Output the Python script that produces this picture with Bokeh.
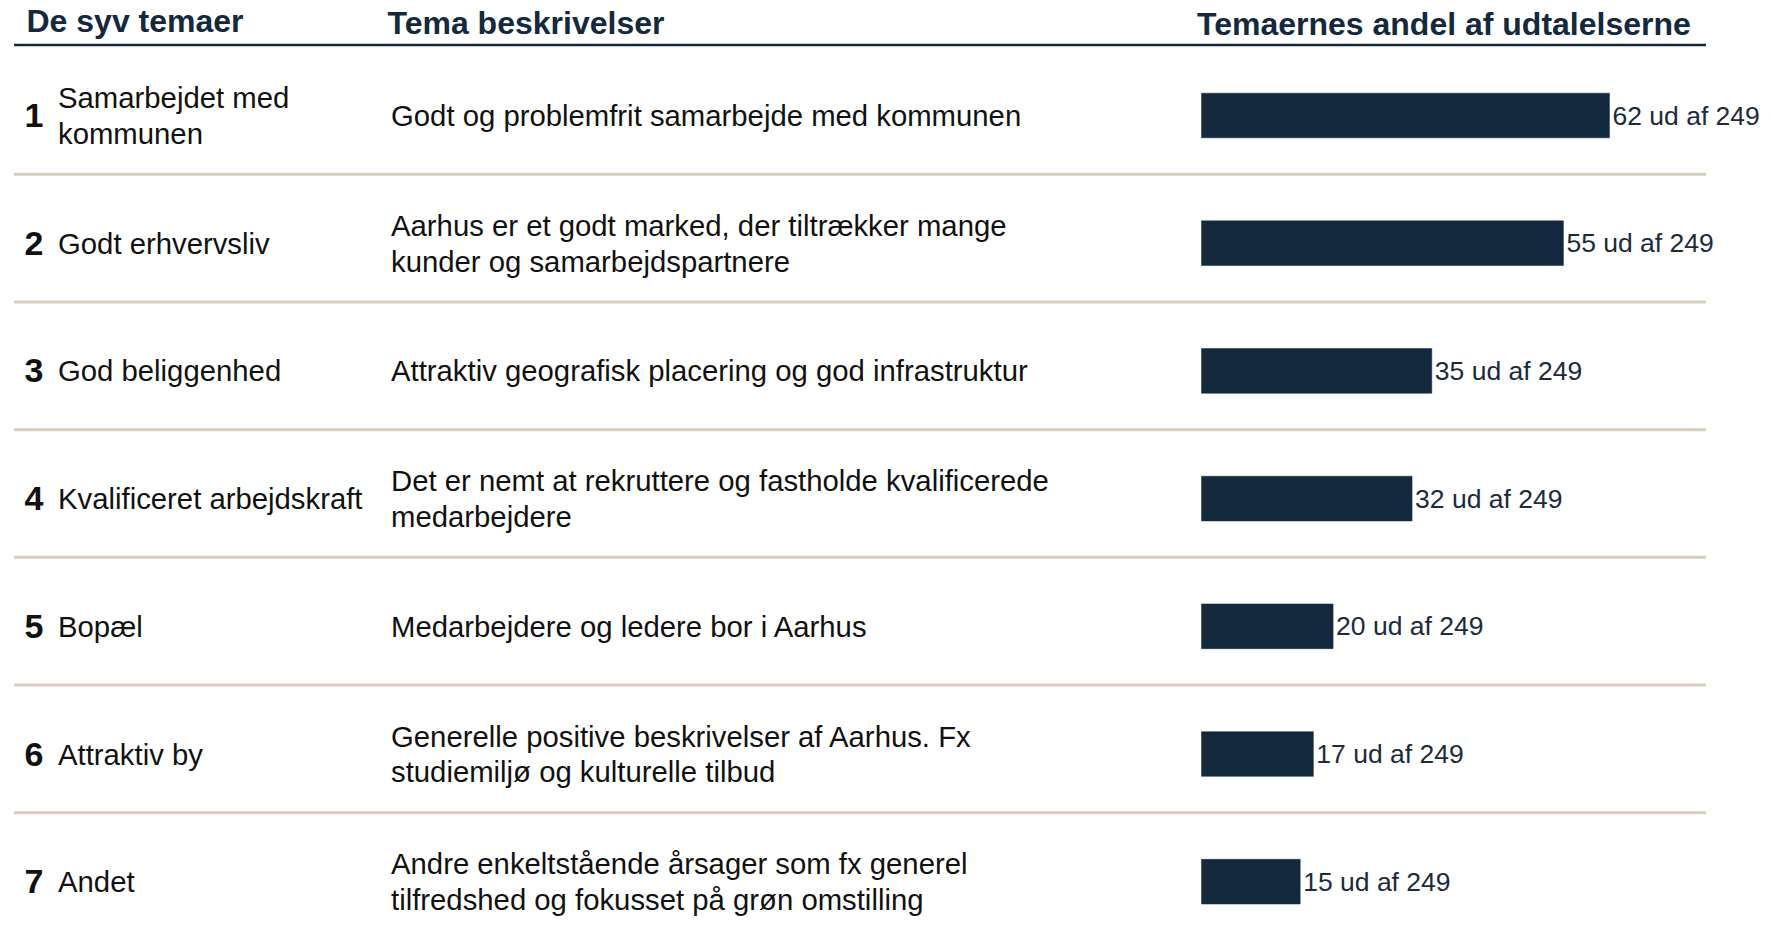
from bokeh.plotting import figure
from bokeh.models import Range1d, ColumnDataSource
from bokeh.core.properties import value
from bokeh.embed import file_html
from bokeh.resources import INLINE

# ---- data ----
theme_numbers = ["1", "2", "3", "4", "5", "6", "7"]
theme_names = [
    "Samarbejdet med\nkommunen",
    "Godt erhvervsliv",
    "God beliggenhed",
    "Kvalificeret arbejdskraft",
    "Bopæl",
    "Attraktiv by",
    "Andet",
]
theme_descriptions = [
    "Godt og problemfrit samarbejde med kommunen",
    "Aarhus er et godt marked, der tiltrækker mange\nkunder og samarbejdspartnere",
    "Attraktiv geografisk placering og god infrastruktur",
    "Det er nemt at rekruttere og fastholde kvalificerede\nmedarbejdere",
    "Medarbejdere og ledere bor i Aarhus",
    "Generelle positive beskrivelser af Aarhus. Fx\nstudiemiljø og kulturelle tilbud",
    "Andre enkeltstående årsager som fx generel\ntilfredshed og fokusset på grøn omstilling",
]
counts = [62, 55, 35, 32, 20, 17, 15]
total = 249
header_titles = ["De syv temaer", "Tema beskrivelser", "Temaernes andel af udtalelserne"]

# ---- layout ----
W, H = 1768, 936
PX_PER_UNIT = 6.58
ZERO_PX = 1201.0
ROW_PITCH = 127.7
ROW1_PX = 115.0

x_start = -ZERO_PX / PX_PER_UNIT
x_end = (W - ZERO_PX) / PX_PER_UNIT
y_top = 1 - ROW1_PX / ROW_PITCH
y_bottom = 1 + (H - ROW1_PX) / ROW_PITCH


def px_x(px):
    return x_start + px / PX_PER_UNIT


def px_y(px):
    return 1 + (px - ROW1_PX) / ROW_PITCH


NAVY = "#14293d"
SEP = "#d9cfbf"
FONT = value("Liberation Sans")

p = figure(width=W, height=H, x_range=Range1d(x_start, x_end),
           y_range=Range1d(y_bottom, y_top), output_backend="svg",
           toolbar_location=None, min_border=0)
p.axis.visible = False
p.grid.visible = False
p.outline_line_color = None
p.background_fill_color = "white"
p.border_fill_color = "white"

rows = list(range(1, len(counts) + 1))
src = ColumnDataSource(dict(
    row=rows, num=theme_numbers, name=theme_names, desc=theme_descriptions,
    count=counts, label=[f"{c} ud af {total}" for c in counts],
))

# header underline and separators
line_x0, line_x1 = px_x(13.5), px_x(1705.5)
p.segment(x0=line_x0, x1=line_x1, y0=px_y(44.5), y1=px_y(44.5), line_color=NAVY, line_width=2.5)
seps = [r + 0.46 for r in rows[:-1]]
p.segment(x0=[line_x0] * len(seps), x1=[line_x1] * len(seps), y0=seps, y1=seps,
          line_color=SEP, line_width=3)

# headers
p.text(x=[px_x(26), px_x(387), px_x(1196.5)],
       y=[px_y(20.5), px_y(22.5), px_y(23.5)],
       text=header_titles, text_font=FONT, text_font_style="bold",
       text_font_size="32px", text_color=NAVY, text_baseline="alphabetic", text_align="left")

# bars
p.hbar(y="row", left=0, right="count", height=0.35, source=src,
       fill_color=NAVY, line_color=NAVY, line_width=0.5)

# bar labels
p.text(x="count", y="row", text="label", source=src, x_offset=3,
       text_font=FONT, text_font_size="26.5px", text_color="#1b2b3c",
       text_baseline="middle", text_align="left")

# row numbers
p.text(x=px_x(24), y="row", text="num", source=src, text_font=FONT,
       text_font_style="bold", text_font_size="34px", text_color="#111111",
       text_baseline="middle", text_align="left")

# theme names
p.text(x=px_x(57.5), y="row", text="name", source=src, text_font=FONT,
       text_font_size="29.3px", text_color="#111111", text_baseline="middle",
       text_align="left", text_line_height=1.08)

# descriptions
p.text(x=px_x(390.5), y="row", text="desc", source=src, text_font=FONT,
       text_font_size="29.3px", text_color="#111111", text_baseline="middle",
       text_align="left", text_line_height=1.08)

open("out.html", "w").write(file_html(p, INLINE))
